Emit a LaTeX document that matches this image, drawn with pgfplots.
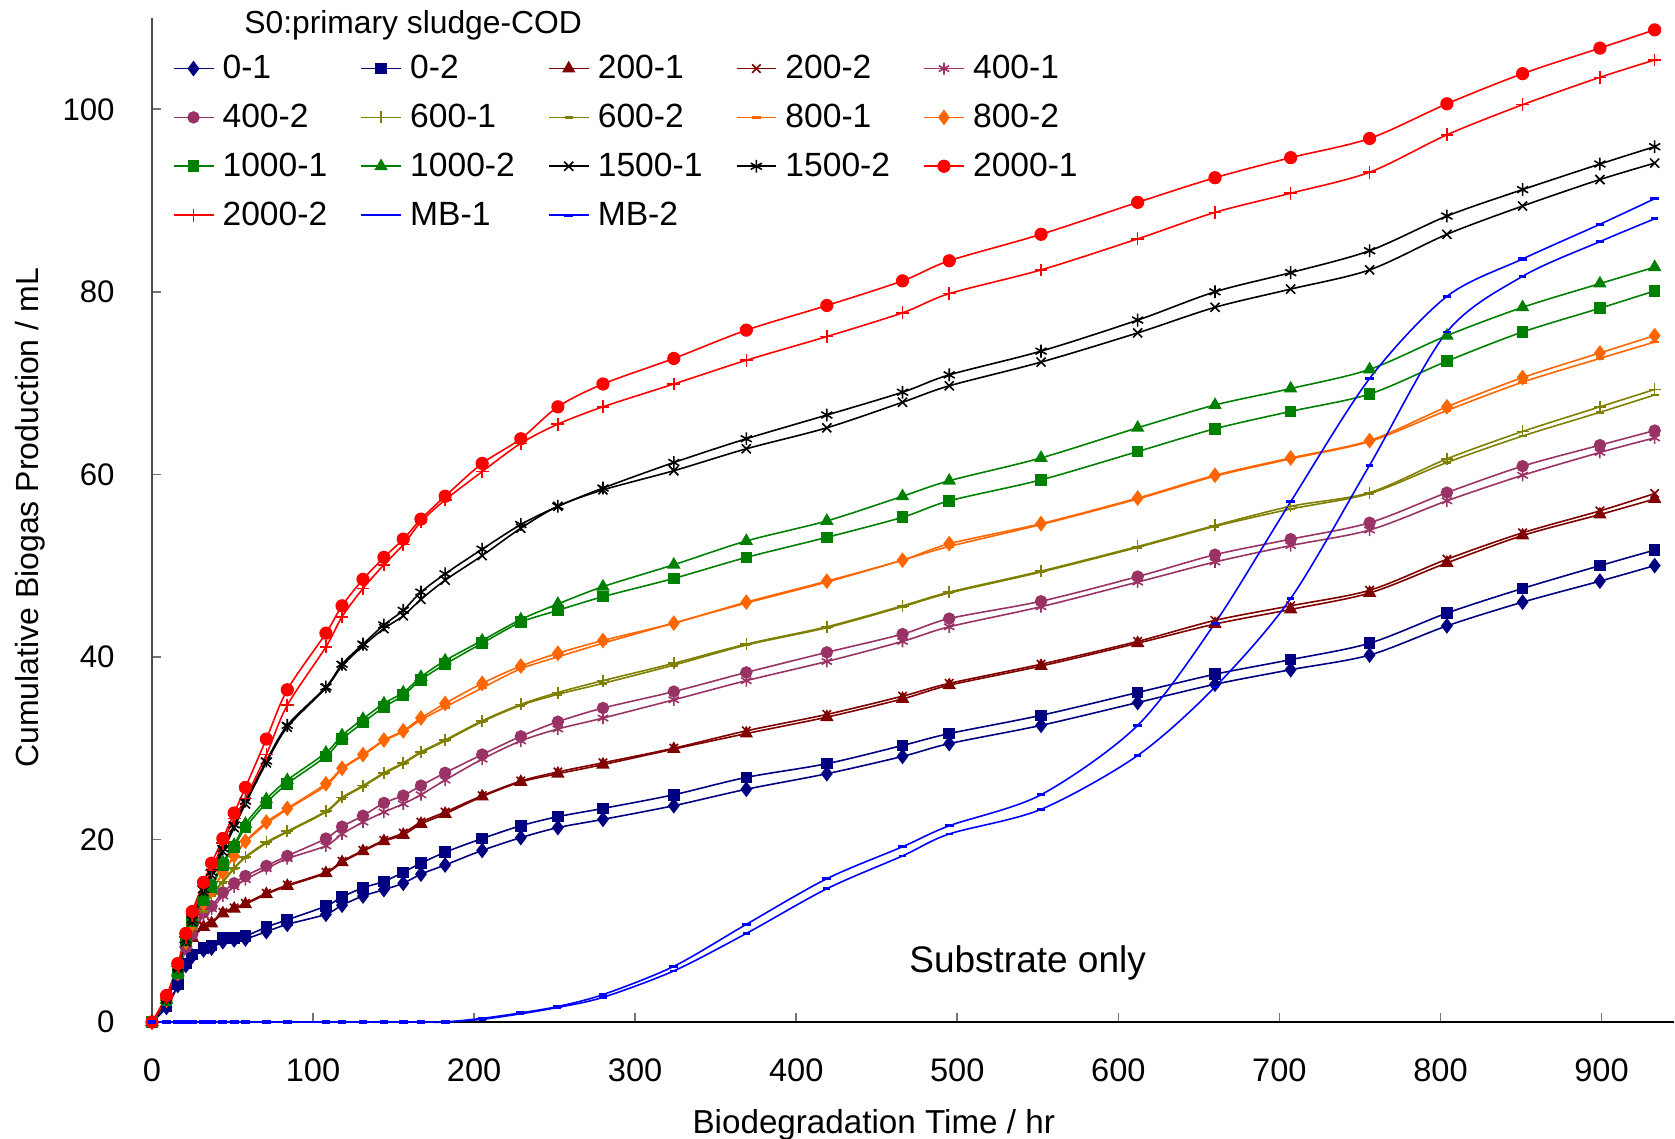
\documentclass[border=0pt]{standalone}
\usepackage{fontspec}
\setmainfont{Liberation Sans}
\usepackage{pgfplots}
\usepackage{pgfplotstable}
\pgfplotsset{compat=1.18}

\definecolor{cnavy}{HTML}{000080}
\definecolor{cdred}{HTML}{800000}
\definecolor{cplum}{HTML}{993366}
\definecolor{colive}{HTML}{808000}
\definecolor{corange}{HTML}{FF6600}
\definecolor{cgreen}{HTML}{008000}
\definecolor{cred}{HTML}{FF0000}
\definecolor{cblue}{HTML}{0000FF}

% t = time [hr], a = replicate 1, b = replicate 2 (biogas, mL)
\pgfplotstableread{
t a b
0 0 0
9 1.6 1.7
16 4.0 4.1
21 6.2 6.4
25 7.2 7.4
32 7.9 8.1
37 8.1 8.4
44 8.8 9.2
51 9.0 9.2
58 9.1 9.4
71 9.9 10.4
84 10.7 11.2
108 11.8 12.7
118 12.8 13.7
131 13.8 14.7
144 14.5 15.4
156 15.2 16.4
167 16.2 17.4
182 17.2 18.6
205 18.8 20.1
229 20.2 21.5
252 21.3 22.5
280 22.2 23.4
324 23.7 24.9
369 25.5 26.8
419 27.2 28.3
466 29.1 30.3
495 30.5 31.6
552 32.5 33.6
612 35.0 36.1
660 37.0 38.1
707 38.6 39.7
756 40.2 41.5
804 43.4 44.8
851 46.0 47.5
899 48.3 50.0
933 50.0 51.7
}\dZero

\pgfplotstableread{
t a b
0 0 0
9 2.4 2.4
16 5.5 5.5
21 8.6 8.7
25 9.2 9.3
32 10.4 10.5
37 10.8 10.9
44 11.9 12.0
51 12.4 12.5
58 12.9 13.0
71 14.0 14.1
84 14.9 15.0
108 16.3 16.4
118 17.5 17.6
131 18.7 18.8
144 19.8 19.9
156 20.5 20.7
167 21.7 21.9
182 22.8 23.0
205 24.7 24.8
229 26.3 26.4
252 27.2 27.4
280 28.2 28.4
324 29.9 30.0
369 31.6 31.9
419 33.4 33.7
466 35.4 35.7
495 36.9 37.1
552 39.0 39.2
612 41.5 41.7
660 43.6 44.0
707 45.2 45.6
756 47.0 47.3
804 50.3 50.7
851 53.3 53.6
899 55.6 56.0
933 57.3 57.9
}\dTwo

\pgfplotstableread{
t a b
0 0 0
9 2.4 2.5
16 5.1 5.2
21 8.0 8.2
25 9.4 9.6
32 11.7 12.0
37 12.4 12.7
44 13.8 14.2
51 14.8 15.2
58 15.6 16.0
71 16.8 17.1
84 17.9 18.2
108 19.3 20.1
118 20.6 21.4
131 21.9 22.6
144 23.0 24.0
156 23.9 24.8
167 24.9 25.9
182 26.5 27.3
205 28.8 29.3
229 30.8 31.3
252 32.1 32.9
280 33.3 34.4
324 35.3 36.2
369 37.4 38.3
419 39.5 40.5
466 41.7 42.5
495 43.3 44.2
552 45.5 46.1
612 48.2 48.8
660 50.4 51.2
707 52.2 52.9
756 53.9 54.7
804 57.1 58.0
851 59.9 60.9
899 62.4 63.2
933 64.0 64.8
}\dFour

\pgfplotstableread{
t a b
0 0 0
9 2.4 2.4
16 5.4 5.4
21 8.6 8.5
25 10.3 10.2
32 12.2 12.1
37 14.0 13.9
44 15.4 15.3
51 16.9 16.8
58 18.1 18.0
71 19.7 19.6
84 20.9 20.8
108 23.1 23.0
118 24.6 24.5
131 25.9 25.8
144 27.3 27.2
156 28.4 28.3
167 29.6 29.5
182 30.9 30.8
205 33.0 32.9
229 34.8 34.7
252 36.1 35.9
280 37.4 37.1
324 39.3 39.1
369 41.4 41.3
419 43.3 43.2
466 45.6 45.5
495 47.1 47.0
552 49.4 49.3
612 52.1 52.0
660 54.4 54.3
707 56.5 56.2
756 58.0 57.9
804 61.7 61.3
851 64.7 64.2
899 67.4 66.8
933 69.3 68.7
}\dSix

\pgfplotstableread{
t a b
0 0 0
9 2.4 2.4
16 5.4 5.4
21 8.7 8.8
25 10.7 10.8
32 12.9 13.0
37 14.3 14.4
44 16.3 16.4
51 18.1 18.2
58 19.7 19.8
71 21.7 21.9
84 23.3 23.4
108 25.9 26.1
118 27.7 27.8
131 29.2 29.3
144 30.8 30.9
156 31.8 31.9
167 33.1 33.3
182 34.5 34.9
205 36.6 37.1
229 38.7 39.0
252 40.0 40.4
280 41.5 41.8
324 43.7 43.7
369 45.9 46.0
419 48.2 48.3
466 50.6 50.6
495 52.1 52.4
552 54.5 54.6
612 57.3 57.4
660 59.8 59.9
707 61.7 61.8
756 63.6 63.7
804 67.0 67.4
851 70.1 70.6
899 72.7 73.3
933 74.5 75.2
}\dEight

\pgfplotstableread{
t a b
0 0 0
9 2.4 2.4
16 5.4 5.4
21 9.0 9.1
25 11.0 11.1
32 13.3 13.5
37 14.8 15.0
44 17.2 17.5
51 19.2 19.4
58 21.3 21.7
71 24.0 24.4
84 26.1 26.5
108 29.1 29.5
118 31.0 31.4
131 32.8 33.2
144 34.5 34.9
156 35.8 36.1
167 37.5 37.8
182 39.2 39.6
205 41.5 41.8
229 43.8 44.1
252 45.1 45.8
280 46.6 47.7
324 48.6 50.1
369 50.9 52.7
419 53.1 54.9
466 55.3 57.6
495 57.1 59.3
552 59.4 61.8
612 62.5 65.1
660 65.0 67.6
707 66.9 69.4
756 68.8 71.5
804 72.4 75.2
851 75.6 78.3
899 78.2 80.9
933 80.1 82.7
}\dTen

\pgfplotstableread{
t a b
0 0 0
9 2.5 2.6
16 5.9 6.0
21 8.8 9.0
25 11.0 11.2
32 14.3 14.5
37 16.1 16.4
44 18.7 19.0
51 21.3 21.6
58 23.9 24.2
71 28.4 28.6
84 32.3 32.5
108 36.6 36.7
118 39.0 39.2
131 41.2 41.4
144 43.1 43.5
156 44.5 45.1
167 46.3 47.1
182 48.4 49.1
205 51.1 51.8
229 54.1 54.5
252 56.5 56.5
280 58.3 58.5
324 60.4 61.3
369 62.8 63.9
419 65.1 66.5
466 67.9 69.0
495 69.7 70.9
552 72.3 73.5
612 75.5 76.9
660 78.3 80.0
707 80.3 82.1
756 82.4 84.5
804 86.3 88.3
851 89.4 91.2
899 92.3 94.0
933 94.1 95.9
}\dFifteen

\pgfplotstableread{
t a b
0 0 0
9 2.9 2.7
16 6.4 6.1
21 9.7 9.3
25 12.1 11.7
32 15.3 14.9
37 17.4 16.6
44 20.1 19.6
51 22.9 22.3
58 25.7 24.5
71 31.0 29.3
84 36.4 34.7
108 42.6 41.1
118 45.6 44.4
131 48.5 47.5
144 50.9 50.1
156 52.9 52.3
167 55.1 54.8
182 57.6 57.2
205 61.2 60.3
229 63.9 63.4
252 67.4 65.5
280 69.9 67.4
324 72.7 69.9
369 75.8 72.5
419 78.5 75.1
466 81.2 77.7
495 83.4 79.8
552 86.3 82.4
612 89.8 85.8
660 92.5 88.7
707 94.7 90.8
756 96.8 93.1
804 100.6 97.2
851 103.9 100.5
899 106.7 103.5
933 108.7 105.4
}\dTwenty

\pgfplotstableread{
t a b
0 0 0
9 0 0
16 0 0
21 0 0
25 0 0
32 0 0
37 0 0
44 0 0
51 0 0
58 0 0
71 0 0
84 0 0
108 0 0
118 0 0
131 0 0
144 0 0
156 0 0
167 0 0
182 0 0
205 0.3 0.4
229 0.9 1.0
252 1.6 1.7
280 2.7 3.0
324 5.6 6.1
369 9.7 10.7
419 14.6 15.7
466 18.2 19.2
495 20.6 21.5
552 23.3 24.9
612 29.2 32.5
660 36.7 43.7
707 46.4 57.0
756 61.0 70.5
804 75.6 79.5
851 81.7 83.6
899 85.5 87.4
933 88.0 90.2
}\dMB

\begin{document}
\begin{tikzpicture}
\useasboundingbox (0,0) rectangle (837.5bp,569.5bp);
\begin{axis}[
  at={(76bp,58.5bp)}, anchor=south west,
  width=761bp, height=502bp, scale only axis,
  xmin=0, xmax=945, ymin=0, ymax=110,
  clip=false,
  axis x line*=bottom, axis y line*=left,
  tick pos=left, tick align=inside,
  major tick length=4.5bp,
  xtick={0,100,...,900}, ytick={0,20,...,100},
  x axis line style={black, line width=1bp},
  y axis line style={black!70, line width=0.8bp},
  tick style={black!55, line width=0.8bp},
  /pgf/number format/assume math mode=true,
  xticklabel style={font=\fontsize{16.3bp}{18bp}\selectfont, anchor=center, inner sep=0pt, yshift=-24bp},
  yticklabel style={font=\fontsize{15.6bp}{18bp}\selectfont, anchor=east, inner sep=0pt, xshift=-18.5bp},
  xlabel={Biodegradation Time / hr},
  xlabel style={at={(axis description cs:0.4742,0)}, anchor=base, yshift=-55.5bp, inner sep=0pt, font=\fontsize{16.6bp}{19bp}\selectfont},
  ylabel={Cumulative Biogas Production / mL},
  ylabel style={at={(axis description cs:-0.07425,0.502)}, anchor=base, inner sep=0pt, font=\fontsize{16bp}{19bp}\selectfont},
  every axis plot/.append style={smooth, tension=0.5, line width=0.8bp, mark options={solid}},
  legend columns=5,
  legend cell align=left,
  legend style={at={(0.0138,0.9628)}, anchor=north west, draw=none, fill=none,
    inner sep=0pt, outer sep=0pt, row sep=11.2bp,
    font=\fontsize{16.8bp}{19bp}\selectfont, nodes={inner sep=0pt},
    /tikz/every odd column/.append style={column sep=4.3bp},
    /tikz/every even column/.append style={column sep=16.7bp}},
  legend image code/.code={\draw[mark repeat=2,mark phase=2] plot coordinates {(0bp,0bp) (9.85bp,0bp) (19.7bp,0bp)};},
]
\addplot[cnavy, mark=diamond*, mark size=3.3bp] table[x=t,y=a]{\dZero};
\addplot[cnavy, mark=square*, mark size=2.5bp] table[x=t,y=b]{\dZero};
\addplot[cdred, mark=triangle*, mark size=3.1bp] table[x=t,y=a]{\dTwo};
\addplot[cdred, mark=x, mark size=3bp] table[x=t,y=b]{\dTwo};
\addplot[cplum, mark=asterisk, mark size=3bp] table[x=t,y=a]{\dFour};
\addplot[cplum, mark=*, mark size=2.7bp] table[x=t,y=b]{\dFour};
\addplot[colive, mark=+, mark size=3bp] table[x=t,y=a]{\dSix};
\addplot[colive, mark=-, mark size=2bp, mark options={solid, line width=1.4bp}] table[x=t,y=b]{\dSix};
\addplot[corange, mark=-, mark size=2.2bp, mark options={solid, line width=1.4bp}] table[x=t,y=a]{\dEight};
\addplot[corange, mark=diamond*, mark size=3.3bp] table[x=t,y=b]{\dEight};
\addplot[cgreen, mark=square*, mark size=2.5bp] table[x=t,y=a]{\dTen};
\addplot[cgreen, mark=triangle*, mark size=3.1bp] table[x=t,y=b]{\dTen};
\addplot[black, mark=x, mark size=3.2bp] table[x=t,y=a]{\dFifteen};
\addplot[black, mark=asterisk, mark size=3.2bp] table[x=t,y=b]{\dFifteen};
\addplot[cred, mark=*, mark size=2.9bp] table[x=t,y=a]{\dTwenty};
\addplot[cred, mark=+, mark size=3.2bp] table[x=t,y=b]{\dTwenty};
\addplot[cblue, mark=-, mark size=1.8bp, mark options={solid, line width=1.3bp}] table[x=t,y=a]{\dMB};
\addplot[cblue, mark=-, mark size=2.2bp, mark options={solid, line width=1.6bp}] table[x=t,y=b]{\dMB};
\legend{0-1,0-2,200-1,200-2,400-1,400-2,600-1,600-2,800-1,800-2,1000-1,1000-2,1500-1,1500-2,2000-1,2000-2,MB-1,MB-2}
\node[anchor=base west, inner sep=0pt, font=\fontsize{15.9bp}{18bp}\selectfont] at (axis cs:57.1,108.3) {S0:primary sludge-COD};
\node[anchor=base west, inner sep=0pt, font=\fontsize{18.5bp}{21bp}\selectfont] at (axis cs:470,5.37) {Substrate only};
\end{axis}
\end{tikzpicture}
\end{document}
